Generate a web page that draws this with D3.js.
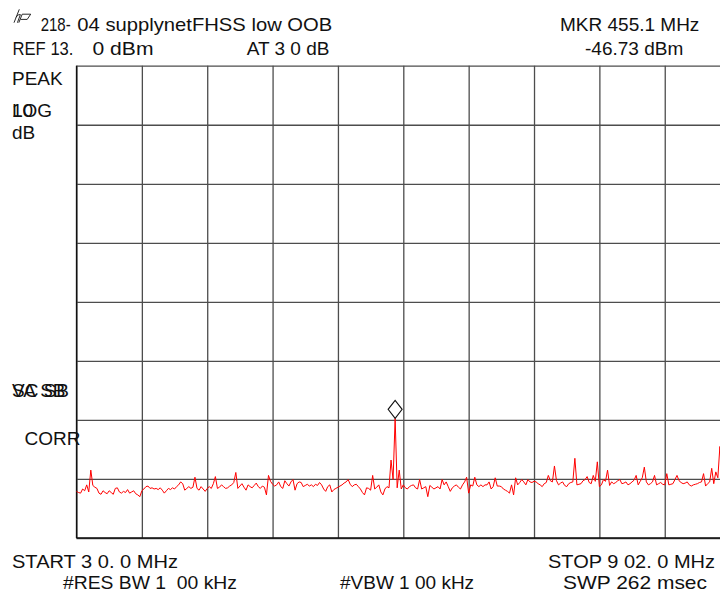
<!DOCTYPE html>
<html>
<head>
<meta charset="utf-8">
<script src="https://cdnjs.cloudflare.com/ajax/libs/d3/7.8.5/d3.min.js"></script>
<style>
  html, body { margin: 0; padding: 0; background: #fff; overflow: hidden; }
  svg { display: block; }
  text { font-family: "Liberation Sans", Arial, sans-serif; font-size: 19px; fill: #111; white-space: pre; }
</style>
</head>
<body>
<svg id="chart" width="720" height="592"></svg>
<script>
// Sweep settings (MHz, dBm)
const startFreq = 30.0;
const stopFreq = 902.0;
const refLevel = 13.0;
const dbPerDiv = 10;
const xDivisions = [30, 117.2, 204.4, 291.6, 378.8, 466, 553.2, 640.4, 727.6, 814.8, 902];
const yDivisions = [13, 3, -7, -17, -27, -37, -47, -57, -67];

// Marker readout
const markerFreq = 455.1;
const markerLevel = -46.73;

// Trace amplitudes (dBm), 321 points evenly spaced from START to STOP
const trace = [
  -59.1,-59.3,-59.4,-58.7,-59.0,-58.0,-59.2,-55.5,-58.1,-58.4,
  -58.6,-59.4,-59.6,-59.0,-59.3,-59.5,-59.0,-59.3,-59.6,-58.6,
  -58.5,-59.2,-59.4,-59.1,-59.3,-58.8,-59.4,-59.2,-59.0,-59.5,
  -59.7,-60.0,-59.0,-58.7,-58.3,-58.2,-58.6,-58.5,-58.7,-58.6,
  -58.8,-58.5,-58.9,-59.4,-59.0,-58.6,-58.8,-58.5,-58.7,-58.3,
  -58.0,-57.5,-57.8,-58.9,-58.6,-58.3,-58.6,-58.4,-56.7,-58.6,
  -58.9,-58.3,-58.7,-59.1,-58.6,-58.3,-58.6,-57.8,-56.6,-58.6,
  -58.4,-58.0,-58.3,-58.6,-58.5,-58.2,-58.0,-57.6,-55.9,-58.6,
  -58.2,-57.8,-58.4,-58.9,-58.0,-58.3,-58.5,-58.1,-57.7,-58.3,
  -58.6,-58.2,-58.4,-59.7,-56.4,-57.4,-57.9,-58.2,-58.0,-57.5,
  -58.3,-58.6,-57.3,-57.8,-58.2,-57.5,-57.1,-58.9,-57.8,-57.5,
  -57.6,-58.3,-58.1,-57.9,-58.2,-58.0,-58.3,-57.9,-58.1,-57.6,
  -58.0,-58.7,-59.1,-58.3,-58.0,-59.2,-58.8,-58.6,-58.4,-58.2,
  -58.0,-57.7,-57.5,-57.1,-57.9,-58.3,-58.0,-57.9,-58.3,-58.7,
  -59.3,-59.7,-58.5,-58.6,-58.9,-56.4,-58.7,-58.4,-58.0,-59.2,
  -59.7,-58.7,-58.3,-58.5,-53.8,-57.1,-46.73,-58.5,-55.5,-58.7,
  -58.0,-58.5,-58.7,-58.3,-58.1,-58.0,-58.5,-58.7,-57.1,-58.7,
  -58.5,-58.3,-60.0,-58.1,-58.4,-58.7,-58.5,-58.3,-58.7,-57.1,
  -58.0,-57.5,-58.3,-59.1,-58.5,-58.2,-58.0,-58.4,-58.7,-58.0,
  -57.5,-56.7,-59.4,-58.0,-58.2,-56.7,-58.0,-58.3,-58.0,-58.3,
  -58.0,-58.0,-57.5,-58.7,-58.3,-56.8,-58.2,-58.2,-58.3,-58.7,
  -58.9,-59.1,-59.4,-58.0,-59.7,-56.8,-58.0,-57.6,-57.1,-57.5,
  -58.0,-57.1,-57.5,-57.6,-57.4,-57.5,-57.8,-58.0,-58.3,-57.8,
  -57.6,-56.4,-57.3,-57.5,-54.8,-57.3,-58.0,-57.7,-57.5,-58.1,
  -58.3,-57.8,-57.6,-57.5,-53.5,-58.0,-57.9,-57.8,-57.3,-57.1,
  -56.6,-57.6,-57.8,-56.4,-57.4,-54.1,-58.3,-58.0,-57.1,-57.4,
  -55.5,-58.1,-57.5,-57.8,-57.6,-57.3,-57.1,-57.8,-57.7,-57.5,
  -58.0,-57.8,-57.5,-57.2,-56.4,-58.0,-57.4,-56.8,-55.0,-57.5,
  -58.0,-57.8,-57.5,-56.4,-58.0,-57.8,-57.6,-57.9,-58.0,-56.1,
  -58.0,-57.9,-57.8,-57.1,-56.4,-57.3,-57.6,-57.8,-57.7,-57.5,
  -58.0,-58.2,-58.0,-57.9,-57.8,-57.6,-57.5,-56.1,-58.2,-57.8,
  -57.5,-55.2,-57.8,-55.8,-56.8,-51.5,-56.8,-57.5,-58.0,-57.4,
  -57.9
];

// Screen annotations
const titleId = "218-";
const titleText = "04 supplynetFHSS low OOB";
const refLabel = "REF 13.";
const refUnit = "0 dBm";
const attenLabel = "AT 3 0 dB";
const markerLabel = "MKR 455.1 MHz";
const markerValueLabel = "-46.73 dBm";
const startLabel = "START 3 0. 0 MHz";
const stopLabel = "STOP 9 02. 0 MHz";
const rbwLabel = "#RES BW 1  00 kHz";
const vbwLabel = "#VBW 1 00 kHz";
const sweepLabel = "SWP 262 msec";

const svg = d3.select("#chart");

const plot = { left: 76.5, top: 65.7, width: 653.6, height: 472.3 };

const x = d3.scaleLinear().domain([startFreq, stopFreq]).range([plot.left, plot.left + plot.width]);
const y = d3.scaleLinear()
  .domain([refLevel - dbPerDiv * (yDivisions.length - 1), refLevel])
  .range([plot.top + plot.height, plot.top]);

// Graticule
const gridColor = "#4d4d4d";
svg.append("g")
  .attr("transform", `translate(0,${plot.top + plot.height})`)
  .call(d3.axisBottom(x).tickValues(xDivisions).tickSize(-plot.height).tickFormat(""))
  .call(g => g.select(".domain").remove())
  .call(g => g.selectAll(".tick line").attr("stroke", gridColor).attr("stroke-width", 1.3));

svg.append("g")
  .attr("transform", `translate(${plot.left},0)`)
  .call(d3.axisLeft(y).tickValues(yDivisions).tickSize(-plot.width).tickFormat(""))
  .call(g => g.select(".domain").remove())
  .call(g => g.selectAll(".tick line").attr("stroke", gridColor).attr("stroke-width", 1.3));

// Darker left and bottom frame edges
const floorLevel = yDivisions[yDivisions.length - 1];
svg.append("line")
  .attr("x1", x(startFreq)).attr("x2", x(startFreq))
  .attr("y1", y(refLevel)).attr("y2", y(floorLevel))
  .attr("stroke", "#111").attr("stroke-width", 1.3);
svg.append("line")
  .attr("x1", x(startFreq)).attr("x2", x(stopFreq))
  .attr("y1", y(floorLevel)).attr("y2", y(floorLevel))
  .attr("stroke", "#111").attr("stroke-width", 1.3);

// Trace
const step = (stopFreq - startFreq) / (trace.length - 1);
const line = d3.line()
  .x((d, i) => x(startFreq + i * step))
  .y(d => y(d));
svg.append("path")
  .datum(trace)
  .attr("fill", "none")
  .attr("stroke", "#ff0000")
  .attr("stroke-width", 1)
  .attr("d", line);

// Marker diamond sitting on the peak
const mx = x(markerFreq), my = y(markerLevel);
svg.append("path")
  .attr("d", `M${mx},${my} L${mx + 7},${my - 9} L${mx},${my - 18} L${mx - 7},${my - 9} Z`)
  .attr("fill", "#fff")
  .attr("stroke", "#111")
  .attr("stroke-width", 1.1);

// Logo
svg.append("path")
  .attr("d", "M19.3,9.3 L14,22.7 M16,17.2 Q18.6,13.6 20.4,14.6 L17.4,22.7 M22.2,14.2 L18.8,22.7 M22.2,14.2 L30.7,14.2 L27.2,19.4 L20.6,19.4")
  .attr("fill", "none")
  .attr("stroke", "#111")
  .attr("stroke-width", 0.9)
  .attr("stroke-linejoin", "round");

// Text annotations; each run is scaled horizontally to its screen width
const label = (t, px, py, width) => {
  const el = svg.append("text").attr("x", px).attr("y", py).text(t);
  if (width) el.attr("textLength", width).attr("lengthAdjust", "spacingAndGlyphs");
  return el;
};
label(titleId, 40.7, 30.5, 30);
label(titleText, 77.3, 30.5, 255);
label(refLabel, 12.5, 55, 61);
label(refUnit, 92.5, 55, 61);
label(attenLabel, 246.7, 55);
label(markerLabel, 560, 30.5);
label(markerValueLabel, 585, 55);
label("PEAK", 12, 85);
label("LOG", 12, 116.5);
label("10", 12, 116.5);
label("dB", 12, 139);
label("VA SB", 12, 397);
label("SC SB", 12, 397);
label("CORR", 24.5, 445);
label(startLabel, 12, 567.5, 166);
label(stopLabel, 548, 567.5, 167);
label(rbwLabel, 63, 589, 174);
label(vbwLabel, 340, 589);
label(sweepLabel, 563, 589, 144);
</script>
</body>
</html>
